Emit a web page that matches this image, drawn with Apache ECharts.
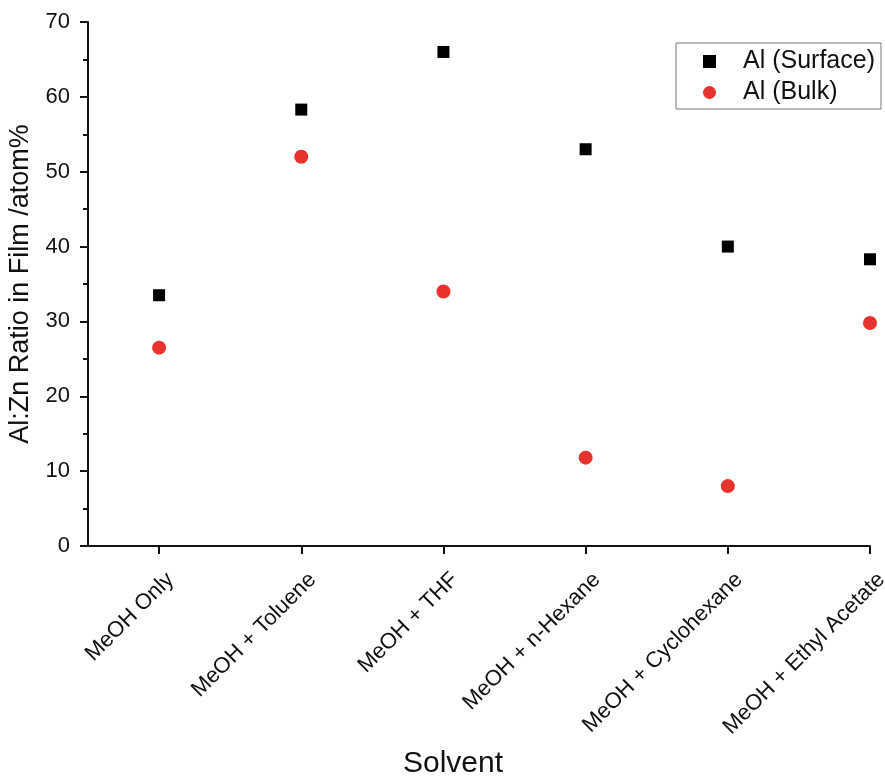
<!DOCTYPE html>
<html>
<head>
<meta charset="utf-8">
<script src="https://cdn.jsdelivr.net/npm/echarts@6/dist/echarts.min.js"></script>
<style>html,body{margin:0;padding:0;background:#fff}#c{width:885px;height:777px}</style>
</head>
<body>
<div id="c"></div>
<script>
var categories = ['MeOH Only', 'MeOH + Toluene', 'MeOH + THF', 'MeOH + n-Hexane', 'MeOH + Cyclohexane', 'MeOH + Ethyl Acetate'];
var surface = [33.5, 58.3, 66.0, 53.0, 40.0, 38.3];
var bulk = [26.5, 52.0, 34.0, 11.8, 8.0, 29.8];
var yTicks = [0, 10, 20, 30, 40, 50, 60, 70];

var positions = categories.map(function (c, i) { return i + 1; });
function pts(arr) { return arr.map(function (v, i) { return [i + 1, v]; }); }

var chart = echarts.init(document.getElementById('c'));
chart.setOption({
  animation: false,
  textStyle: { fontFamily: 'Liberation Sans, Arial, sans-serif' },
  title: {
    text: 'Solvent', left: 398, top: 744,
    textStyle: { fontSize: 30, fontWeight: 'normal', color: '#111' }
  },
  grid: { left: 88, top: 22, right: 15, bottom: 231, containLabel: false, outerBoundsMode: 'none' },
  legend: {
    right: 4, top: 43, orient: 'vertical',
    itemGap: 6, itemWidth: 13, itemHeight: 13,
    padding: [6, 6, 4, 27],
    borderColor: '#777', borderWidth: 1,
    textStyle: { fontSize: 25, color: '#111', padding: [0, 0, 0, 22] },
    data: [{ name: 'Al (Surface)', icon: 'rect' }, { name: 'Al (Bulk)', icon: 'circle' }]
  },
  xAxis: {
    type: 'value', min: 0.5, max: 6,
    splitLine: { show: false },
    axisLine: { show: true, onZero: false, lineStyle: { color: '#111', width: 2 } },
    axisTick: { show: true, customValues: positions, length: 8, lineStyle: { color: '#111', width: 2 } },
    axisLabel: {
      customValues: positions, rotate: 45, fontSize: 22, color: '#111', margin: 19,
      lineHeight: 32, hideOverlap: false,
      formatter: function (v) { return ' \n' + (categories[Math.round(v) - 1] || ''); }
    }
  },
  yAxis: {
    type: 'value', min: 0, max: 70, interval: 10,
    name: 'Al:Zn Ratio in Film /atom%', nameLocation: 'middle', nameGap: 54,
    nameTextStyle: { fontSize: 27, color: '#111' },
    splitLine: { show: false },
    axisLine: { show: true, lineStyle: { color: '#111', width: 2 } },
    axisTick: { show: true, length: 8, lineStyle: { color: '#111', width: 2 } },
    minorTick: { show: true, splitNumber: 2, length: 5, lineStyle: { color: '#111', width: 2 } },
    axisLabel: { fontSize: 22, color: '#111', margin: 18,
      formatter: function (v) { return yTicks.indexOf(v) >= 0 ? String(v) : ''; } }
  },
  series: [
    { name: 'Al (Surface)', type: 'scatter', symbol: 'rect', symbolSize: 12,
      itemStyle: { color: '#000', opacity: 1 }, data: pts(surface) },
    { name: 'Al (Bulk)', type: 'scatter', symbol: 'circle', symbolSize: 14,
      itemStyle: { color: '#e8322e', opacity: 1 }, data: pts(bulk) }
  ]
});
</script>
</body>
</html>
